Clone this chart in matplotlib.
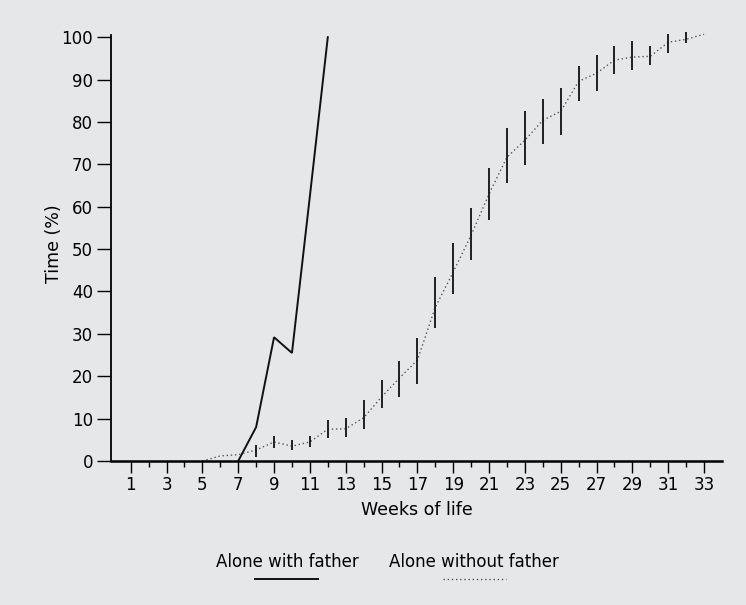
import matplotlib.pyplot as plt
from matplotlib.lines import Line2D

plt.rcParams['font.family'] = ['DejaVu Sans']

# "Alone with father"
weeks_with = [7, 8, 9, 10, 11, 12]
pct_with = [0, 8.0, 29.2, 25.5, 62.5, 100]

# "Alone without father" (mean, lower and upper end of the vertical bars)
weeks_without = list(range(5, 34))
pct_without = [0, 1.2, 1.5, 2.6, 4.5, 3.5, 4.5, 7.5, 7.6, 10.2, 15.1, 19.6,
               23.8, 36.3, 44.6, 53.3, 63.0, 71.7, 75.7, 80.4, 82.5, 89.6,
               91.5, 94.6, 95.3, 95.5, 98.8, 99.5, 100.7]
bar_weeks = list(range(8, 33))
bar_lo = [1.0, 3.1, 2.6, 3.3, 5.4, 5.7, 7.5, 12.5, 15.1, 18.2, 31.4, 39.4,
          47.4, 56.8, 65.6, 69.8, 74.8, 77.0, 84.9, 87.3, 91.3, 92.2, 93.4,
          96.2, 98.6]
bar_hi = [3.8, 5.9, 5.0, 5.9, 9.7, 10.1, 14.3, 19.1, 23.6, 29.0, 43.4, 51.4,
          59.7, 69.1, 78.5, 82.5, 85.4, 88.0, 93.3, 95.8, 97.9, 99.1, 97.9,
          100.7, 101.2]

y_ticks = list(range(0, 101, 10))
x_major = list(range(1, 34, 2))
x_minor = list(range(2, 33, 2))

bg = '#e6e7e9'
fig = plt.figure(figsize=(7.46, 6.05), dpi=100, facecolor=bg)
ax = fig.add_axes([0.1488, 0.238, 0.819, 0.704])
ax.set_facecolor(bg)

ax.plot(weeks_with, pct_with, color='#111111', lw=1.4, solid_joinstyle='miter')
ax.plot(weeks_without, pct_without, color='#555555', lw=1.0,
        linestyle=(0, (1, 2)), clip_on=False)
ax.vlines(bar_weeks, bar_lo, bar_hi, color='#111111', lw=1.3, clip_on=False)

ax.set_xlim(-0.1, 34)
ax.set_ylim(0, 100.5)
for s in ['top', 'right']:
    ax.spines[s].set_visible(False)
ax.spines['left'].set_linewidth(1.3)
ax.spines['bottom'].set_linewidth(1.8)

ax.set_yticks(y_ticks)
ax.set_xticks(x_major)
ax.set_xticks(x_minor, minor=True)
ax.tick_params(axis='y', direction='out', length=10, width=1, labelsize=12, pad=3)
ax.tick_params(axis='x', which='major', direction='out', length=8.5, width=1,
               labelsize=12, pad=2)
ax.tick_params(axis='x', which='minor', direction='out', length=4.3, width=1)

ax.set_xlabel('Weeks of life', fontsize=12.5, labelpad=5)
ax.set_ylabel('Time (%)', fontsize=12.5)
ax.yaxis.set_label_coords(-0.079, 0.51)

# legend below the chart
fig.text(287 / 746, 1 - 562 / 605, 'Alone with father', fontsize=12,
         ha='center', va='center')
fig.text(474 / 746, 1 - 562 / 605, 'Alone without father', fontsize=12,
         ha='center', va='center')
fig.add_artist(Line2D([255 / 746, 318 / 746], [1 - 579 / 605] * 2,
                      color='#111111', lw=1.4))
fig.add_artist(Line2D([443 / 746, 506 / 746], [1 - 579 / 605] * 2,
                      color='#555555', lw=1.0, linestyle=(0, (1, 2))))

fig.savefig('out.png', dpi=100, facecolor=bg)
